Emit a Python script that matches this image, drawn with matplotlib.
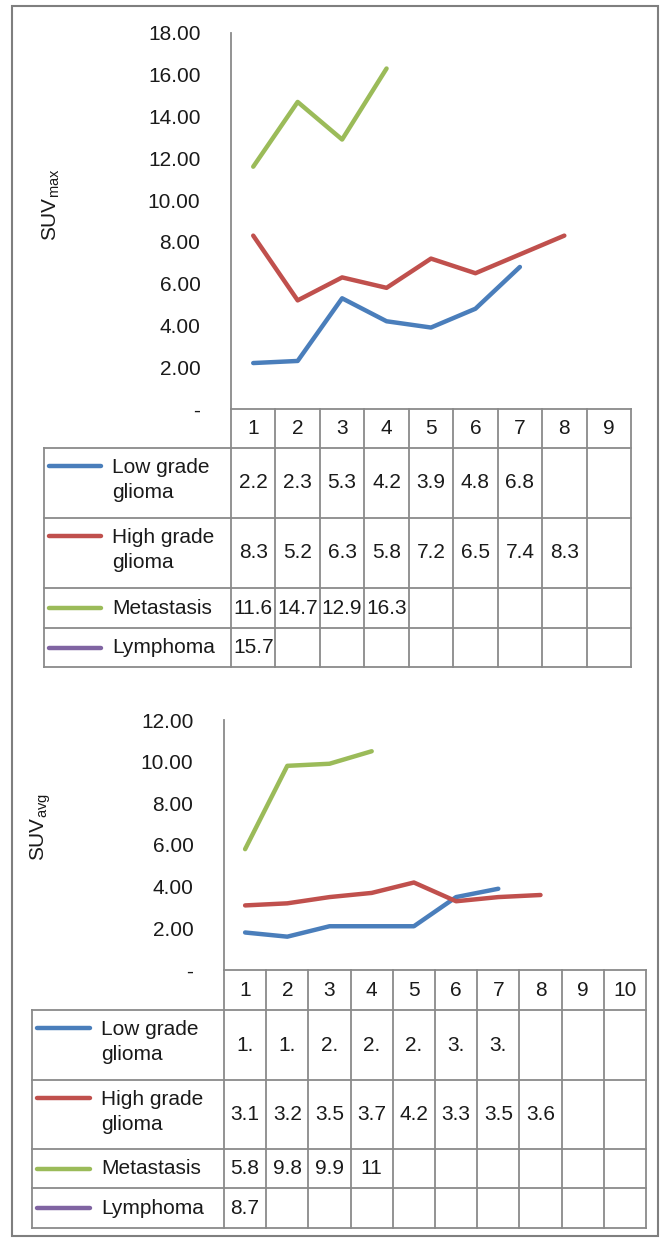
import numpy as np
import matplotlib
matplotlib.use("Agg")
import matplotlib.pyplot as plt
from matplotlib.patches import Rectangle

plt.rcParams['font.family'] = ['Liberation Sans', 'DejaVu Sans']
plt.rcParams['mathtext.fontset'] = 'custom'
plt.rcParams['mathtext.rm'] = 'Liberation Sans'

# data
series_names = ["Low grade\nglioma", "High grade\nglioma", "Metastasis", "Lymphoma"]
colors = ["#4A7EBB", "#C0504D", "#9BBB59", "#8064A2"]

max_low = [2.2, 2.3, 5.3, 4.2, 3.9, 4.8, 6.8]
max_high = [8.3, 5.2, 6.3, 5.8, 7.2, 6.5, 7.4, 8.3]
max_met = [11.6, 14.7, 12.9, 16.3]
max_lym = [15.7]
max_cats = [1, 2, 3, 4, 5, 6, 7, 8, 9]

avg_low = [1.8, 1.6, 2.1, 2.1, 2.1, 3.5, 3.9]
avg_high = [3.1, 3.2, 3.5, 3.7, 4.2, 3.3, 3.5, 3.6]
avg_met = [5.8, 9.8, 9.9, 10.5]
avg_lym = [8.7]
avg_cats = [1, 2, 3, 4, 5, 6, 7, 8, 9, 10]

# cell text as it shows in the narrow data-table columns
avg_low_text = ["1.", "1.", "2.", "2.", "2.", "3.", "3."]
avg_high_text = ["3.1", "3.2", "3.5", "3.7", "4.2", "3.3", "3.5", "3.6"]
avg_met_text = ["5.8", "9.8", "9.9", "11"]
avg_lym_text = ["8.7"]

W, H = 661, 1241
fig = plt.figure(figsize=(W / 100, H / 100), dpi=100)

GRID = "#8a8a8a"
TXT = "#1a1a1a"
FS = 15


def fx(px):
    return px / W


def fy(py):
    return 1 - py / H


def draw_chart(cats, series, texts, ymax, label, ax_x, right, top, base,
               leg_left, rows, leg_line, leg_text, lab_pos):
    n = len(cats)
    colw = (right - ax_x) / n
    # line area
    ax = fig.add_axes([fx(ax_x), fy(base), fx(right) - fx(ax_x), fy(top) - fy(base)])
    for vals, c in zip(series, colors):
        ax.plot(cats[:len(vals)], vals, color=c, lw=3.2,
                solid_capstyle="round", solid_joinstyle="round")
    ax.set_xlim(cats[0] - 0.5, cats[-1] + 0.5)
    ax.set_ylim(0, ymax)
    ticks = np.arange(0, ymax + 1, 2)
    ax.set_yticks(ticks)
    ax.set_yticklabels(["-" if t == 0 else f"{t:.2f}" for t in ticks])
    ax.tick_params(axis="y", length=0, pad=22, labelsize=FS, labelcolor=TXT)
    ax.set_xticks([])
    for s in ["top", "right", "bottom"]:
        ax.spines[s].set_visible(False)
    ax.spines["left"].set_color(GRID)
    ax.spines["left"].set_linewidth(1.3)
    ax.patch.set_alpha(0)

    fig.text(fx(lab_pos[0]), fy(lab_pos[1]), label, rotation=90,
             ha="center", va="center", fontsize=FS, color=TXT)

    # data table
    bottom = base + sum(rows)
    x0 = cats[0] - 0.5 - (ax_x - leg_left) / colw
    x1 = cats[-1] + 0.5
    tab = fig.add_axes([fx(leg_left), fy(bottom), fx(right) - fx(leg_left), fy(base) - fy(bottom)])
    tab.set_xlim(x0, x1)
    tab.set_ylim(bottom, base)
    tab.axis("off")

    def px2x(px):
        return cats[0] - 0.5 + (px - ax_x) / colw

    edges = np.cumsum([base] + rows)
    kw = dict(color=GRID, lw=1.3, clip_on=False)
    tab.plot([cats[0] - 0.5, x1], [base, base], **kw)
    for e in edges[1:]:
        tab.plot([x0, x1], [e, e], **kw)
    tab.plot([x0, x0], [edges[1], bottom], **kw)
    for k in range(n + 1):
        xv = cats[0] - 0.5 + k
        tab.plot([xv, xv], [base, bottom], **kw)

    hc = (edges[0] + edges[1]) / 2
    for c in cats:
        tab.text(c, hc, str(c), ha="center", va="center", fontsize=FS, color=TXT)

    for i, (name, c, txt) in enumerate(zip(series_names, colors, texts)):
        r0, r1 = edges[i + 1], edges[i + 2]
        rc = (r0 + r1) / 2
        two = "\n" in name
        ly = r0 + 18 if two else rc
        tab.plot([px2x(leg_line[0]), px2x(leg_line[1])], [ly, ly], color=c,
                 lw=3.2, solid_capstyle="round")
        tab.text(px2x(leg_text), rc - 3 if two else rc, name,
                 ha="left", va="center", fontsize=FS, color=TXT, linespacing=1.4)
        for j, t in enumerate(txt):
            tab.text(cats[j], rc, t, ha="center", va="center", fontsize=FS, color=TXT)


max_series = [max_low, max_high, max_met, max_lym]
max_texts = [[f"{v:.1f}" for v in s] for s in max_series]
draw_chart(max_cats, max_series, max_texts, 18, r"SUV$_{\mathrm{max}}$",
           231, 631, 33, 409, 44, [39, 70, 70, 40, 39], (49, 101), 112, (51, 205))

avg_series = [avg_low, avg_high, avg_met, avg_lym]
avg_texts = [avg_low_text, avg_high_text, avg_met_text, avg_lym_text]
draw_chart(avg_cats, avg_series, avg_texts, 12, r"SUV$_{\mathrm{avg}}$",
           224, 646, 720, 970, 32, [40, 70, 69, 39, 40], (37, 90), 101, (41, 827))

fig.patches.append(Rectangle((fx(12), fy(1236)), fx(658) - fx(12), fy(6) - fy(1236),
                             transform=fig.transFigure, fill=False,
                             edgecolor="#7f7f7f", lw=1.5))

fig.savefig("out.png", dpi=100)
